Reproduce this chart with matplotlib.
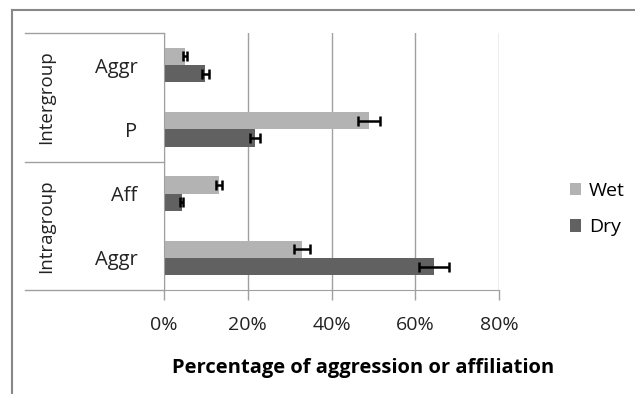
import matplotlib
matplotlib.use("Agg")
import matplotlib.pyplot as plt
from matplotlib.lines import Line2D

plt.rcParams['font.family'] = ['Open Sans', 'DejaVu Sans']

# categories bottom -> top
categories = ["Aggr", "Aff", "P", "Aggr"]
groups = ["Intragroup", "Intergroup"]
wet = [0.330, 0.131, 0.490, 0.050]
wet_err = [0.019, 0.007, 0.026, 0.004]
dry = [0.645, 0.042, 0.217, 0.099]
dry_err = [0.035, 0.003, 0.012, 0.008]
ticks = [0, 0.2, 0.4, 0.6, 0.8]
tick_labels = ["0%", "20%", "40%", "60%", "80%"]

W, H = 635, 394
fig = plt.figure(figsize=(W / 100, H / 100), dpi=100)
ax = fig.add_axes([164 / W, 1 - 290 / H, 335 / W, 257 / H])

pos = list(range(len(categories)))
bh = 0.27
wet_pos = [p + 0.135 for p in pos]
dry_pos = [p - 0.135 for p in pos]
ax.barh(wet_pos, wet, height=bh, color="#b3b3b3", label="Wet", zorder=2)
ax.barh(dry_pos, dry, height=bh, color="#616161", label="Dry", zorder=2)
ax.errorbar(wet, wet_pos, xerr=wet_err, fmt="none", ecolor="black",
            elinewidth=1.8, capsize=3.5, capthick=1.8, zorder=3)
ax.errorbar(dry, dry_pos, xerr=dry_err, fmt="none", ecolor="black",
            elinewidth=1.8, capsize=3.5, capthick=1.8, zorder=3)

ax.set_xlim(0, 0.8)
ax.set_ylim(-0.5, 3.5)
ax.set_xticks(ticks)
ax.set_xticklabels(tick_labels, fontsize=14, color="#222222")
ax.set_yticks(pos)
ax.set_yticklabels(categories, fontsize=14.5, color="#222222")
ax.tick_params(axis="y", length=0, pad=19)
ax.tick_params(axis="x", length=7, color="#a0a0a0", pad=12, width=1)
ax.grid(axis="x", color="#a0a0a0", linewidth=1, zorder=0)
for s in ["top", "right"]:
    ax.spines[s].set_visible(False)
for s in ["left", "bottom"]:
    ax.spines[s].set_color("#a0a0a0")
ax.set_xlabel("Percentage of aggression or affiliation", fontsize=14.5,
              fontweight="bold")
ax.xaxis.set_label_coords((363 - 164) / 335, -0.263)

# group separators and labels
x0 = (25 - 164) / 335
for yy in [1.0, 0.5, 0.0]:
    ax.plot([x0, 0], [yy, yy], transform=ax.transAxes, color="#a0a0a0",
            linewidth=1, clip_on=False)
gx = (46 - 164) / 335
ax.text(gx, 0.75, groups[1], transform=ax.transAxes, rotation=90,
        ha="center", va="center", fontsize=13.5, color="#222222")
ax.text(gx, 0.25, groups[0], transform=ax.transAxes, rotation=90,
        ha="center", va="center", fontsize=13.5, color="#222222")

fig.legend(loc="center left", bbox_to_anchor=(560 / W, 1 - 209 / H),
           frameon=False, fontsize=14, handlelength=0.6, handleheight=0.6,
           handletextpad=0.4, labelspacing=0.95, borderpad=0)

# chart border
fig.add_artist(Line2D([12 / W, 12 / W], [0, 1 - 10 / H], color="#888888", linewidth=1.5))
fig.add_artist(Line2D([12 / W, 1], [1 - 10 / H, 1 - 10 / H], color="#888888", linewidth=1.5))

fig.savefig("out.png", dpi=100, facecolor="white")
